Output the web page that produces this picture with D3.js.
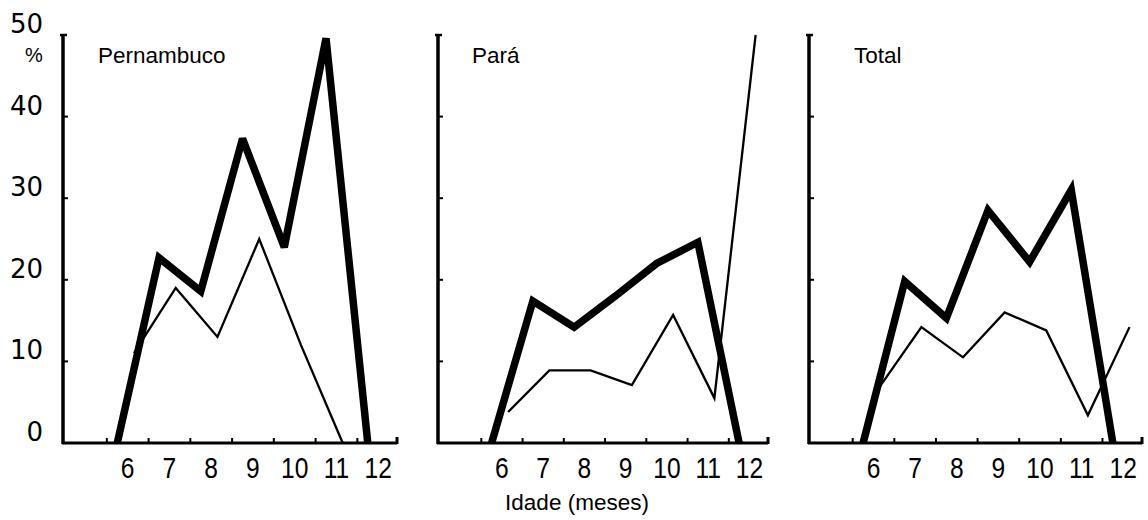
<!DOCTYPE html>
<html>
<head>
<meta charset="utf-8">
<script src="https://cdn.jsdelivr.net/npm/d3@7"></script>
<style>
  html, body { margin: 0; padding: 0; background: #fff; }
  svg { display: block; }
  .num { font-family: "DejaVu Sans", "Liberation Sans", sans-serif; }
  .xnum { font-family: "Liberation Sans", "DejaVu Sans", sans-serif; }
  .lbl { font-family: "Liberation Sans", "Open Sans", sans-serif; }
</style>
</head>
<body>
<svg id="chart" width="1148" height="520"></svg>
<script>
// Age in months along the horizontal axis
const months = [6, 7, 8, 9, 10, 11, 12];
const yTicks = [0, 10, 20, 30, 40, 50];
const panelNames = ["Pernambuco", "Pará", "Total"];

// Percentages per month (heavy line and light line) for each region
const pernambucoHeavy = [0, 22.7, 18.6, 37.3, 24, 49.6, 0];
const pernambucoLight = [11, 19, 13, 25, 12, 0, null];
const paraHeavy = [0, 17.4, 14.2, 18, 22, 24.6, 0];
const paraLight = [3.8, 8.9, 8.9, 7.1, 15.7, 5.5, 50];
const totalHeavy = [0, 19.8, 15.3, 28.5, 22.2, 31, 0];
const totalLight = [6.9, 14.2, 10.5, 16, 13.8, 3.4, 14.2];

const heavySeries = [pernambucoHeavy, paraHeavy, totalHeavy];
const lightSeries = [pernambucoLight, paraLight, totalLight];

// Layout
const panelLeft = [63, 438, 809];
const panelWidth = [334, 330, 333];
const titleOffset = [35, 34, 45];
const plotTop = 35, plotBottom = 443;
const xDomain = [4.7, 12.7];
const lightShift = 0.4;   // light line is plotted staggered to the right of each month
const labelShift = 0.25;  // month labels sit between the small axis ticks

const svg = d3.select("#chart");
const y = d3.scaleLinear().domain([0, 50]).range([plotBottom, plotTop]);

panelNames.forEach((name, i) => {
  const x0 = panelLeft[i];
  const x = d3.scaleLinear().domain(xDomain).range([x0, x0 + panelWidth[i]]);
  const g = svg.append("g");

  // vertical axis with short inward ticks
  g.append("line")
    .attr("x1", x0).attr("x2", x0).attr("y1", y(50) - 1).attr("y2", y(0) + 1)
    .attr("stroke", "#000").attr("stroke-width", 3.5);
  g.append("line")
    .attr("x1", x0 - 3).attr("x2", x0 + 4).attr("y1", y(50)).attr("y2", y(50))
    .attr("stroke", "#000").attr("stroke-width", 2.5);
  g.selectAll(".ytick").data(yTicks.slice(1, -1)).join("line")
    .attr("x1", x0).attr("x2", x0 + 5)
    .attr("y1", d => y(d)).attr("y2", d => y(d))
    .attr("stroke", "#000").attr("stroke-width", 2);

  // horizontal axis with small upward ticks
  g.append("line")
    .attr("x1", x0 - 1).attr("x2", x.range()[1]).attr("y1", y(0)).attr("y2", y(0))
    .attr("stroke", "#000").attr("stroke-width", 3);
  g.selectAll(".xtick").data(months.map(m => m - 0.25)).join("line")
    .attr("x1", d => x(d)).attr("x2", d => x(d))
    .attr("y1", y(0)).attr("y2", y(0) - 5)
    .attr("stroke", "#000").attr("stroke-width", 2);
  g.append("line")
    .attr("x1", x.range()[1]).attr("x2", x.range()[1])
    .attr("y1", y(0) + 1).attr("y2", y(0) - 6)
    .attr("stroke", "#000").attr("stroke-width", 3);

  // month labels, set in a condensed style
  g.selectAll(".xlab").data(months).join("text")
    .attr("class", "xnum")
    .attr("transform", d => `translate(${x(d + labelShift)},478) scale(0.82,1)`)
    .attr("text-anchor", "middle").attr("font-size", 30)
    .text(d => d);

  // region title
  g.append("text").attr("class", "lbl")
    .attr("x", x0 + titleOffset[i]).attr("y", 63)
    .attr("font-size", 22.5).text(name);

  // light line
  const light = d3.line()
    .defined(d => d[1] !== null)
    .x(d => x(d[0] + lightShift)).y(d => y(d[1]));
  g.append("path")
    .datum(months.map((m, k) => [m, lightSeries[i][k]]))
    .attr("d", light).attr("fill", "none")
    .attr("stroke", "#000").attr("stroke-width", 2.3)
    .attr("stroke-linejoin", "miter");

  // heavy line
  const heavy = d3.line().x(d => x(d[0])).y(d => y(d[1]));
  g.append("path")
    .datum(months.map((m, k) => [m, heavySeries[i][k]]))
    .attr("d", heavy).attr("fill", "none")
    .attr("stroke", "#000").attr("stroke-width", 7.5)
    .attr("stroke-linejoin", "miter").attr("stroke-miterlimit", 3);
});

// value labels on the first panel's vertical axis
svg.selectAll(".ylab").data(yTicks).join("text")
  .attr("class", "num")
  .attr("x", panelLeft[0] - 20).attr("y", d => y(d) - 2)
  .attr("text-anchor", "end").attr("font-size", 26)
  .text(d => d);
svg.append("text").attr("class", "lbl")
  .attr("x", 34).attr("y", 62).attr("text-anchor", "middle")
  .attr("font-size", 20).text("%");

svg.append("text").attr("class", "lbl")
  .attr("x", 577).attr("y", 510).attr("text-anchor", "middle")
  .attr("font-size", 22.5).text("Idade (meses)");
</script>
</body>
</html>
